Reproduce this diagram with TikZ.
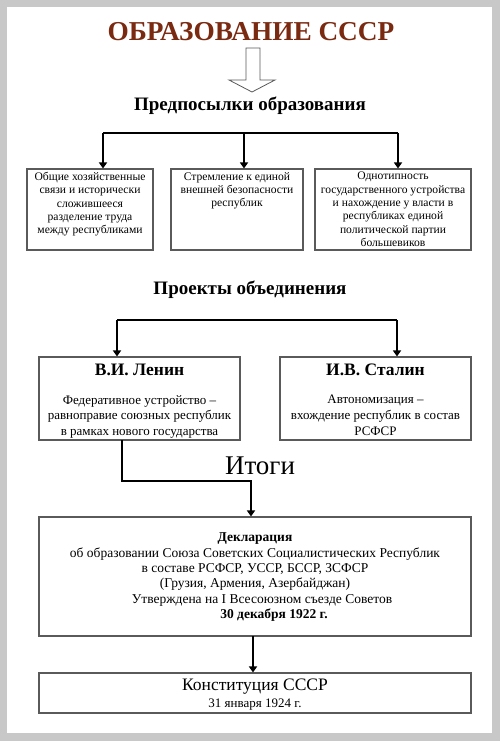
\documentclass[tikz,border=0pt]{standalone}
\usepackage{fontspec}
\setmainfont{Liberation Serif}
\usetikzlibrary{arrows.meta}
\definecolor{titleBrown}{RGB}{122,42,16}
\definecolor{frameGray}{RGB}{200,200,200}
\definecolor{boxGray}{RGB}{90,90,90}
\begin{document}
\begin{tikzpicture}[x=1pt, y=-1pt,
    boxStyle/.style={rectangle, draw=boxGray, line width=1.1pt, inner sep=0pt},
    textStyle/.style={anchor=north, align=center, inner sep=0pt},
    headStyle/.style={anchor=base, inner sep=0pt, font=\fontsize{19}{20}\selectfont\bfseries},
    linkStyle/.style={line width=1.8pt},
    arrowStyle/.style={linkStyle, -{Triangle[width=8pt, length=6pt]}}]
    \fill[frameGray] (0,0) rectangle (500,741);
    \fill[white] (7,7) rectangle (492,733);
    \useasboundingbox (0,0) rectangle (500,741);

    % title
    \node[anchor=base, inner sep=0pt, text=titleBrown, font=\fontsize{27.3}{30}\selectfont\bfseries] (title) at (251, 41) {ОБРАЗОВАНИЕ СССР};
    \draw[boxGray, line width=0.8pt, fill=white] (246,48) -- (260,48) -- (260,80) -- (275,80) -- (252,92) -- (229,80) -- (246,80) -- cycle;

    % preconditions
    \node[headStyle] (pre_head) at (250, 111) {Предпосылки образования};
    \node[boxStyle, minimum width=126, minimum height=81] (pre_A) at (90, 209.5) {};
    \node[boxStyle, minimum width=132, minimum height=81] (pre_B) at (237, 209.5) {};
    \node[boxStyle, minimum width=156, minimum height=81] (pre_C) at (393, 209.5) {};
    \node[textStyle, font=\fontsize{11.6}{13.3}\selectfont] (pre_A_txt) at ([yshift=-3.5pt]pre_A.north) {Общие хозяйственные\\связи и исторически\\сложившееся\\разделение труда\\между республиками};
    \node[textStyle, font=\fontsize{11.6}{13.3}\selectfont] (pre_B_txt) at ([yshift=-3.5pt]pre_B.north) {Стремление к единой\\внешней безопасности\\республик};
    \node[textStyle, font=\fontsize{11.6}{13.3}\selectfont] (pre_C_txt) at ([yshift=-3.5pt]pre_C.north) {Однотипность\\государственного устройства\\и нахождение у власти в\\республиках единой\\политической партии\\большевиков};

    \coordinate (pre_L) at (103, 133);
    \coordinate (pre_M) at (244, 133);
    \coordinate (pre_R) at (398, 133);
    \draw[linkStyle] (pre_L) -- (pre_R);
    \draw[arrowStyle] (pre_L) -- (pre_L |- pre_A.north);
    \draw[arrowStyle] (pre_M) -- (pre_M |- pre_B.north);
    \draw[arrowStyle] (pre_R) -- (pre_R |- pre_C.north);

    % projects
    \node[headStyle] (proj_head) at (250, 294) {Проекты объединения};
    \node[boxStyle, minimum width=201, minimum height=83] (lenin) at (139.5, 398.5) {};
    \node[boxStyle, minimum width=191, minimum height=83] (stalin) at (375.5, 398.5) {};
    \node[textStyle, font=\fontsize{17.5}{20}\selectfont\bfseries] (lenin_name) at ([yshift=-7pt]lenin.north) {В.И. Ленин};
    \node[textStyle, font=\fontsize{17.5}{20}\selectfont\bfseries] (stalin_name) at ([yshift=-7pt]stalin.north) {И.В. Сталин};
    \node[textStyle, font=\fontsize{13}{15.8}\selectfont] (lenin_txt) at ([yshift=-38.5pt]lenin.north) {Федеративное устройство –\\равноправие союзных республик\\в рамках нового государства};
    \node[textStyle, font=\fontsize{13}{15.8}\selectfont] (stalin_txt) at ([yshift=-38.5pt]stalin.north) {Автономизация –\\вхождение республик в состав\\РСФСР};

    \coordinate (proj_L) at (117, 320);
    \coordinate (proj_R) at (397, 320);
    \draw[linkStyle] (proj_L) -- (proj_R);
    \draw[arrowStyle] (proj_L) -- (proj_L |- lenin.north);
    \draw[arrowStyle] (proj_R) -- (proj_R |- stalin.north);

    % results
    \node[anchor=base, inner sep=0pt, font=\fontsize{27}{30}\selectfont] (res_head) at (260, 474) {Итоги};
    \node[boxStyle, minimum width=432, minimum height=119] (decl) at (255, 576.5) {};
    \node[textStyle, font=\fontsize{13.5}{15.3}\selectfont] (decl_txt) at ([yshift=-16.5pt]decl.north) {\textbf{Декларация}\\об образовании Союза Советских Социалистических Республик\\в составе РСФСР, УССР, БССР, ЗСФСР\\(Грузия, Армения, Азербайджан)\\\hspace*{14pt}Утверждена на I Всесоюзном съезде Советов\\\hspace*{38pt}\textbf{30 декабря 1922 г.}};
    \node[boxStyle, minimum width=432, minimum height=40] (const) at (255, 693) {};
    \node[textStyle, font=\fontsize{17.5}{17}\selectfont] (const_txt) at ([yshift=-6pt]const.north) {Конституция СССР\\[0pt]\fontsize{13}{15}\selectfont 31 января 1924 г.};

    \coordinate (lenin_out) at (122, 440);
    \coordinate (res_bend) at (251, 481);
    \draw[arrowStyle] (lenin_out) |- (res_bend) -- (res_bend |- decl.north);
    \coordinate (decl_out) at (253, 636);
    \draw[arrowStyle] (decl_out) -- (decl_out |- const.north);
\end{tikzpicture}
\end{document}
